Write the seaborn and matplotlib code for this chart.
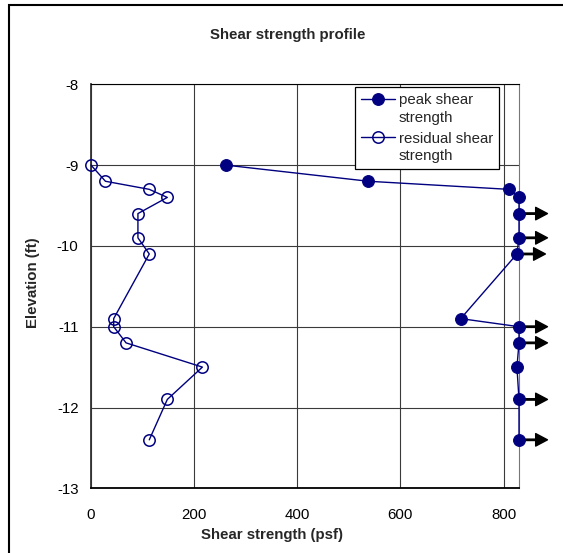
import matplotlib
matplotlib.use("Agg")
import matplotlib.pyplot as plt
import matplotlib.patches as mpatches
from matplotlib.transforms import offset_copy
import seaborn as sns
import pandas as pd

# Elevation of each test (ft)
elevation = [-9.0, -9.2, -9.3, -9.4, -9.6, -9.9, -10.1, -10.9, -11.0, -11.2, -11.5, -11.9, -12.4]
# Peak shear strength (psf); values at 830 reached the limit of the device
peak = [261, 538, 810, 830, 830, 830, 826, 717, 830, 830, 826, 830, 830]
# Residual shear strength (psf)
residual = [0, 28, 113, 148, 91, 91, 113, 44, 44, 68, 216, 148, 113]
# Tests where the peak strength exceeded the measured value
exceeds = [False, False, False, False, True, True, True, False, True, True, False, True, True]

x_ticks = [0, 200, 400, 600, 800]
y_ticks = [-8, -9, -10, -11, -12, -13]

df = pd.DataFrame({"elevation": elevation, "peak": peak, "residual": residual})

sns.set_theme(style="white")
plt.rcParams["font.family"] = ["Liberation Sans", "DejaVu Sans"]
FS = 10.8
NAVY = "#000080"

W, H = 563, 553
fig = plt.figure(figsize=(W / 100, H / 100), dpi=100)
fig.patch.set_facecolor("white")

# outer chart frame (only top and left edges fall inside the canvas)
fig.patches.append(mpatches.Rectangle((9 / W, -0.05), 1.1, 1 - 5 / H + 0.05,
                                      transform=fig.transFigure, fill=False,
                                      edgecolor="black", linewidth=1.5))

ax_l, ax_r, ax_t, ax_b = 91, 519, 84.3, 488.3
ax = fig.add_axes([ax_l / W, 1 - ax_b / H, (ax_r - ax_l) / W, (ax_b - ax_t) / H])

sns.lineplot(data=df, x="peak", y="elevation", sort=False, estimator=None, ax=ax,
             color=NAVY, linewidth=1.0, marker="o", markersize=8.5,
             markerfacecolor=NAVY, markeredgecolor=NAVY, label="peak shear\nstrength",
             clip_on=False, zorder=4)
sns.lineplot(data=df, x="residual", y="elevation", sort=False, estimator=None, ax=ax,
             color=NAVY, linewidth=1.0, marker="o", markersize=8.2,
             markerfacecolor="none", markeredgecolor=NAVY, markeredgewidth=1.1,
             label="residual shear\nstrength", clip_on=False, zorder=4)

# arrows marking strengths beyond the measured value
tip = offset_copy(ax.transData, fig=fig, x=20.5, y=0, units="points")
for xv, yv, flag in zip(peak, elevation, exceeds):
    if flag:
        ax.annotate("", xy=(xv, yv), xycoords=tip, xytext=(xv, yv), textcoords="data",
                    arrowprops=dict(facecolor="black", edgecolor="black", width=1.0,
                                    headwidth=9, headlength=8.5, shrink=0),
                    annotation_clip=False, zorder=3)

ax.set_xlim(0, 830)
ax.set_ylim(-13, -8)
ax.set_xticks(x_ticks)
ax.set_yticks(y_ticks)
ax.set_xticklabels([str(v) for v in x_ticks], fontsize=FS)
ax.set_yticklabels([str(v) for v in y_ticks], fontsize=FS)
ax.tick_params(axis="both", direction="in", length=3, colors="black")
ax.tick_params(axis="x", pad=14)
ax.tick_params(axis="y", pad=9)
ax.grid(True, color="#3a3a3a", linewidth=0.8)
ax.set_axisbelow(True)
ax.set_xlabel("")
ax.set_ylabel("")

for side, (lw, col) in {"left": (1.3, "#333333"), "bottom": (1.3, "black"),
                        "top": (0.8, "black"), "right": (0.8, "#777777")}.items():
    ax.spines[side].set_visible(True)
    ax.spines[side].set_linewidth(lw)
    ax.spines[side].set_color(col)

leg = ax.legend(loc="upper right", bbox_to_anchor=((499.3 - ax_l) / (ax_r - ax_l),
                                                   (ax_b - 87.3) / (ax_b - ax_t)),
                borderaxespad=0, fontsize=FS, frameon=True, fancybox=False,
                handlelength=2.3, handletextpad=0.25, labelspacing=0.45,
                borderpad=0.4, framealpha=1)
leg.get_frame().set_edgecolor("black")
leg.get_frame().set_linewidth(0.9)
for t in leg.get_texts():
    t.set_linespacing(1.32)
for col_box in leg._legend_handle_box.get_children():
    for row in col_box.get_children():
        row.align = "top"

fig.text(288 / W, 1 - 35 / H, "Shear strength profile", ha="center", va="center",
         fontsize=FS, fontweight="bold")
fig.text(272 / W, 1 - 535.5 / H, "Shear strength (psf)", ha="center", va="center",
         fontsize=FS, fontweight="bold")
fig.text(33 / W, 1 - ((ax_t + ax_b) / 2 - 4) / H, "Elevation (ft)", ha="center",
         va="center", rotation=90, fontsize=FS, fontweight="bold")

fig.savefig("out.png", dpi=100)
